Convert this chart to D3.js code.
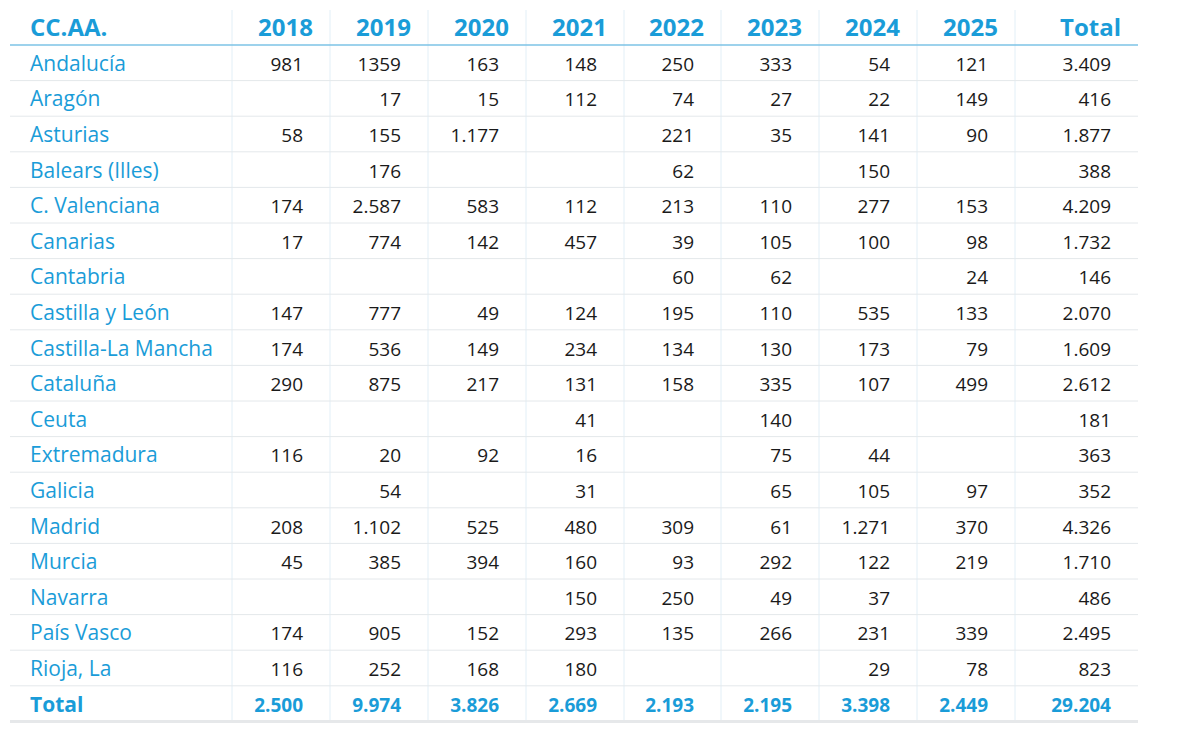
<!DOCTYPE html>
<html><head><meta charset="utf-8">
<script src="https://cdn.jsdelivr.net/npm/d3@7"></script>
<style>body{margin:0;background:#fff}svg{font-family:"Open Sans",sans-serif}</style>
</head><body><svg id="chart" width="1180" height="733"></svg>
<script>
var columns = ["CC.AA.", "2018", "2019", "2020", "2021", "2022", "2023", "2024", "2025", "Total"];
var regions = ["Andalucía","Aragón","Asturias","Balears (Illes)","C. Valenciana","Canarias","Cantabria","Castilla y León","Castilla-La Mancha","Cataluña","Ceuta","Extremadura","Galicia","Madrid","Murcia","Navarra","País Vasco","Rioja, La"];
var values = [
 ["981","1359","163","148","250","333","54","121","3.409"],
 ["","17","15","112","74","27","22","149","416"],
 ["58","155","1.177","","221","35","141","90","1.877"],
 ["","176","","","62","","150","","388"],
 ["174","2.587","583","112","213","110","277","153","4.209"],
 ["17","774","142","457","39","105","100","98","1.732"],
 ["","","","","60","62","","24","146"],
 ["147","777","49","124","195","110","535","133","2.070"],
 ["174","536","149","234","134","130","173","79","1.609"],
 ["290","875","217","131","158","335","107","499","2.612"],
 ["","","","41","","140","","","181"],
 ["116","20","92","16","","75","44","","363"],
 ["","54","","31","","65","105","97","352"],
 ["208","1.102","525","480","309","61","1.271","370","4.326"],
 ["45","385","394","160","93","292","122","219","1.710"],
 ["","","","150","250","49","37","","486"],
 ["174","905","152","293","135","266","231","339","2.495"],
 ["116","252","168","180","","","29","78","823"]
];
var totals = ["2.500","9.974","3.826","2.669","2.193","2.195","3.398","2.449","29.204"];

var blue = "#1a9cd8";
var svg = d3.select("#chart");
var edges = [10, 232, 330, 428, 526, 624, 721, 819, 917, 1015, 1138];
var headerTop = 10, headerBottom = 45, rowH = 35.6;
var rows = regions.map(function(r, i){ return {label: r, vals: values[i], total: false}; });
rows.push({label: "Total", vals: totals, total: true});
var y = d3.scaleLinear().domain([0, rows.length]).range([headerBottom, headerBottom + rows.length*rowH]);

svg.selectAll("line.v").data(edges.slice(1, -1)).enter().append("line")
  .attr("x1", function(d){return d;}).attr("x2", function(d){return d;})
  .attr("y1", headerTop).attr("y2", y(rows.length))
  .attr("stroke", "#e2eff7").attr("stroke-width", 1);

svg.selectAll("line.h").data(d3.range(1, rows.length)).enter().append("line")
  .attr("x1", 10).attr("x2", 1138)
  .attr("y1", function(d){return y(d);}).attr("y2", function(d){return y(d);})
  .attr("stroke", "#e4e8eb").attr("stroke-width", 1);
svg.append("line").attr("x1", 10).attr("x2", 1138).attr("y1", y(rows.length)).attr("y2", y(rows.length))
  .attr("stroke", "#e6e8ea").attr("stroke-width", 3);
svg.append("line").attr("x1", 10).attr("x2", 1138).attr("y1", headerBottom).attr("y2", headerBottom)
  .attr("stroke", "#7cc3e6").attr("stroke-width", 1.5);

svg.selectAll("text.hd").data(columns).enter().append("text")
  .attr("x", function(d, i){ return i === 0 ? 30 : edges[i+1] - 17; })
  .attr("y", 36).attr("text-anchor", function(d, i){ return i === 0 ? "start" : "end"; })
  .attr("fill", blue).attr("font-weight", "bold").attr("font-size", 24).text(function(d){return d;});

var g = svg.selectAll("g.row").data(rows).enter().append("g")
  .attr("transform", function(d, i){ return "translate(0," + (y(i) + rowH/2 + 8) + ")"; });
g.append("text").attr("x", 30).attr("fill", blue)
  .attr("font-size", function(d){ return d.total ? 21 : 21; })
  .attr("font-weight", function(d){ return d.total ? "bold" : "normal"; })
  .text(function(d){ return d.label; });
g.each(function(d){
  d3.select(this).selectAll("text.v").data(d.vals).enter().append("text")
    .attr("x", function(v, j){ return edges[j+2] - 27; })
    .attr("text-anchor", "end")
    .attr("font-size", 19)
    .attr("font-weight", d.total ? "bold" : "normal")
    .attr("fill", d.total ? blue : "#1a1a1a")
    .text(function(v){ return v; });
});
</script></body></html>
